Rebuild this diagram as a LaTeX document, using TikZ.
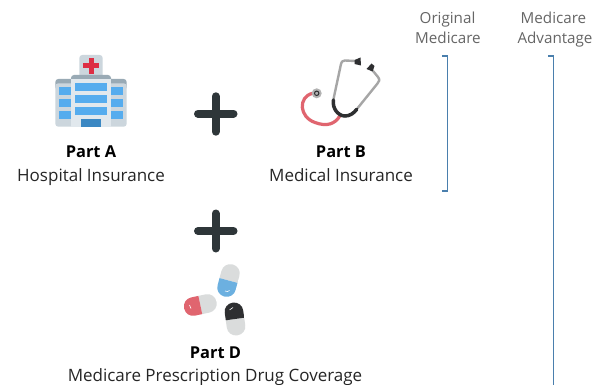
\documentclass[tikz,border=0pt]{standalone}
\usepackage{fontspec}
\setmainfont{Open Sans}
\definecolor{barblue}{HTML}{4A7FAD}
\definecolor{plusdark}{HTML}{2E3639}
\definecolor{capred}{HTML}{E0656F}
\definecolor{capgray}{HTML}{DADCDC}
\definecolor{capblue}{HTML}{6CB0E0}
\definecolor{capdark}{HTML}{2E2F31}
\definecolor{winblue}{HTML}{55ACEE}
\definecolor{wallgray}{HTML}{CCD6DD}
\definecolor{walllight}{HTML}{E1E8ED}
\definecolor{roofgray}{HTML}{99AAB5}
\definecolor{doorblue}{HTML}{3B88C3}
\definecolor{crossred}{HTML}{DD2E44}
\newcommand{\capsule}[5]{%
  \begin{scope}[shift={(#1,#2)},rotate=#3]
    \begin{scope}
      \clip[rounded corners=9pt] (-9.3,-16.5) rectangle (9.3,16.5);
      \fill[#4] (-10,-17) rectangle (10,0);
      \fill[#5] (-10,0) rectangle (10,17);
    \end{scope}
  \end{scope}}
\tikzset{
  x=1pt,y=-1pt,
  plusbar/.style={line width=8pt,line cap=round,color=plusdark},
  bracketline/.style={draw=barblue,line width=1.3pt},
  heading/.style={font=\fontsize{15.2}{18}\selectfont,text=black!60,inner sep=0pt,anchor=base},
  partname/.style={font=\bfseries\fontsize{16.4}{19}\selectfont,text=black,inner sep=0pt,anchor=base},
  partdesc/.style={font=\fontsize{17}{20}\selectfont,text=black!85,inner sep=0pt,anchor=base},
}
\begin{document}
\begin{tikzpicture}
\useasboundingbox (0,0) rectangle (592,385);
\fill[white] (0,0) rectangle (592,385);
% hospital
\fill[wallgray,rounded corners=3pt] (79.3,55) rectangle (102.7,80);
\fill[crossred] (82.7,63) rectangle (99.3,68);
\fill[crossred] (88.5,57.7) rectangle (93.5,73.7);
\fill[roofgray,rounded corners=3pt] (55.3,79) rectangle (126.7,90);
\fill[wallgray,rounded corners=3pt] (55.3,83.3) rectangle (126.7,126.7);
\fill[roofgray,rounded corners=3pt] (71,75) rectangle (111,85);
\fill[walllight] (71,79) rectangle (111,126.7);
\foreach \yy/\yz in {83.3/91,95.3/103,107/114.7} \fill[winblue] (75,\yy) rectangle (107,\yz);
\foreach \yy/\yz in {87/95,99/107,111/119} {
  \fill[winblue] (59.3,\yy) rectangle (71,\yz);
  \fill[winblue] (111,\yy) rectangle (122.7,\yz);
}
\fill[doorblue] (81,119) rectangle (101,126.7);
% plus signs
\draw[plusbar] (198,113.7) -- (233.5,113.7);
\draw[plusbar] (215.7,96.3) -- (215.7,131.7);
\draw[plusbar] (198,231) -- (233.5,231);
\draw[plusbar] (215.7,213.5) -- (215.7,248.5);
% stethoscope
\draw[capred,line width=3.2pt,line cap=round] (312.5,93.3) .. controls (298,97) and (299,117) .. (315,122.5) .. controls (327,127) and (335,124) .. (340,115.7);
\draw[black!35,line width=2.4pt,line join=round] (355,61) -- (345,60.5) .. controls (342,60.5) and (341.5,62) .. (341,64) -- (333.3,100);
\draw[black!35,line width=2.4pt,line join=round] (370,67.3) -- (378,77) .. controls (380,80) and (379.5,81) .. (377.5,83.5) -- (356.7,109.3);
\draw[capdark,line width=3.5pt,line cap=round] (333.5,100) .. controls (332,108) and (338,116) .. (345,116) .. controls (350,116) and (354,113) .. (356.7,109.3);
\fill[capdark] (354.5,60) -- (360.5,57.5) -- (361,65.5) -- (354.5,64) -- cycle;
\fill[capdark] (366.5,69) -- (371.5,63.5) -- (374.5,66) -- (372.5,71.5) -- cycle;
\fill[black!30] (316.7,93.3) circle[radius=5pt];
\draw[capdark,line width=1pt] (316.7,93.3) circle[radius=2.2pt];
% capsules
\capsule{228.5}{280.5}{-15}{capgray}{capblue}
\capsule{200.3}{305}{-78}{capgray}{capred}
\capsule{235}{319}{188}{capgray}{capdark}
\draw[white,line width=.6pt] (225,291) .. controls (226.5,292) and (228.5,291.5) .. (229.5,290.5);
\draw[white,line width=.6pt] (189.5,305) .. controls (189.5,306.5) and (190,307.5) .. (191,308.5);
\draw[white,line width=.6pt] (229.5,310) .. controls (230.5,308.5) and (231.5,308) .. (233,307.5);
% brackets
\coordinate (oTop) at (442.3,56);
\coordinate (oTopR) at (447.3,56);
\coordinate (oBot) at (442.3,191);
\coordinate (oBotR) at (447.3,191);
\draw[bracketline] (oTop) -- (oTopR) -- (oBotR) -- (oBot);
\coordinate (aTop) at (548.3,56);
\coordinate (aTopR) at (553.3,56);
\coordinate (aBot) at (553.3,386);
\draw[bracketline] (aTop) -- (aTopR) -- (aBot);
% labels
\node[heading] (h1a) at (447.5,23.5) {Original};
\node[heading] (h1b) at (448,44) {Medicare};
\node[heading] (h2a) at (553.5,23.5) {Medicare};
\node[heading] (h2b) at (555,44) {Advantage};
\node[partname] (pa) at (91,158) {Part A};
\node[partdesc] (pad) at (91,182) {Hospital Insurance};
\node[partname] (pb) at (341,158) {Part B};
\node[partdesc] (pbd) at (341,182) {Medical Insurance};
\node[partname] (pd) at (215.5,358) {Part D};
\node[partdesc] (pdd) at (215,381) {Medicare Prescription Drug Coverage};
\end{tikzpicture}
\end{document}
